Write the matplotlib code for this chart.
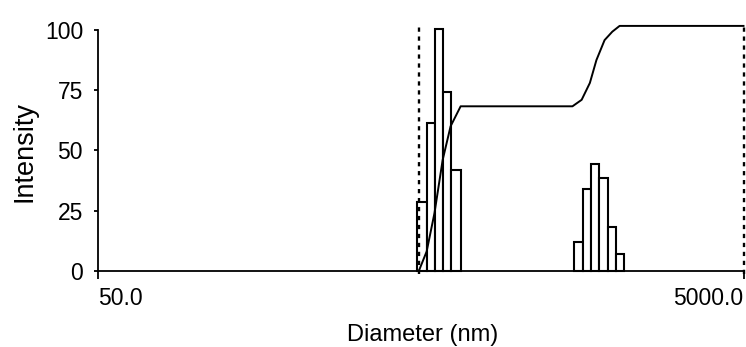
import matplotlib
matplotlib.use('Agg')
import matplotlib.pyplot as plt
from matplotlib.ticker import NullLocator
import numpy as np

# Size distribution by intensity
peak1_edges = [487, 521, 551, 584, 618, 664]          # nm, bin edges
peak1_heights = [28.5, 61.5, 100.5, 74.4, 41.8]
peak2_edges = [1488, 1591, 1683, 1782, 1896, 2018, 2136]
peak2_heights = [12, 33.8, 44.3, 38.4, 18.3, 6.8]

# cumulative curve
cum_x = [493, 521, 551, 584, 618, 664, 1475, 1575, 1670, 1750, 1855, 1960, 2065, 5000]
cum_y = [0, 8, 24, 46, 60, 68.3, 68.3, 71, 78, 87.5, 95.8, 99.3, 101.7, 101.7]

# dashed cursors
cursor_x = [493, 5000]

x_ticks = [50, 5000]
x_tick_labels = ['50.0', '5000.0']
y_ticks = [0, 25, 50, 75, 100]

plt.rcParams['font.family'] = ['Liberation Sans', 'DejaVu Sans']

W, H = 746, 347
fig = plt.figure(figsize=(W / 100, H / 100), dpi=100)
x0, x1, y0, y1 = 98.3, 743.5, 270.7, 30.0
ax = fig.add_axes([x0 / W, 1 - y0 / H, (x1 - x0) / W, (y0 - y1) / H])

ax.set_xscale('log')
ax.set_xlim(50, 5000)
ax.set_ylim(0, 100)

# histogram bars
for edges, heights in [(peak1_edges, peak1_heights), (peak2_edges, peak2_heights)]:
    edges = np.array(edges, dtype=float)
    ax.bar(edges[:-1], heights, width=np.diff(edges), align='edge',
           color='white', edgecolor='black', linewidth=1.5,
           clip_on=False, zorder=2)

# cumulative line
ax.plot(cum_x, cum_y, color='black', linewidth=1.4, clip_on=False, zorder=3)

# cursors
for cx in cursor_x:
    ax.plot([cx, cx], [-1.5, 101.2], color='black', linewidth=1.7,
            linestyle=(0, (1.8, 2.0)), clip_on=False, zorder=4)

# spines and ticks
ax.spines['top'].set_visible(False)
ax.spines['right'].set_visible(False)
for s in ['left', 'bottom']:
    ax.spines[s].set_linewidth(1.3)

ax.xaxis.set_minor_locator(NullLocator())
ax.set_xticks(x_ticks)
ax.set_xticklabels(x_tick_labels)
ax.set_yticks(y_ticks)
ax.tick_params(axis='x', length=6, width=1.3, pad=6, labelsize=16.5)
ax.tick_params(axis='y', length=3, width=1.3, pad=8, labelsize=16.5)
labels = ax.get_xticklabels()
labels[0].set_horizontalalignment('left')
labels[1].set_horizontalalignment('right')

ax.set_xlabel('Diameter (nm)', fontsize=17)
ax.xaxis.set_label_coords((423 - x0) / (x1 - x0), -(335.5 - y0) / (y0 - y1))
ax.xaxis.label.set_verticalalignment('center')
ax.set_ylabel('Intensity', fontsize=19.5)
ax.yaxis.set_label_coords(-(x0 - 24) / (x1 - x0), (y0 - 151) / (y0 - y1))
ax.yaxis.label.set_verticalalignment('center')

fig.savefig('out.png', dpi=100)
